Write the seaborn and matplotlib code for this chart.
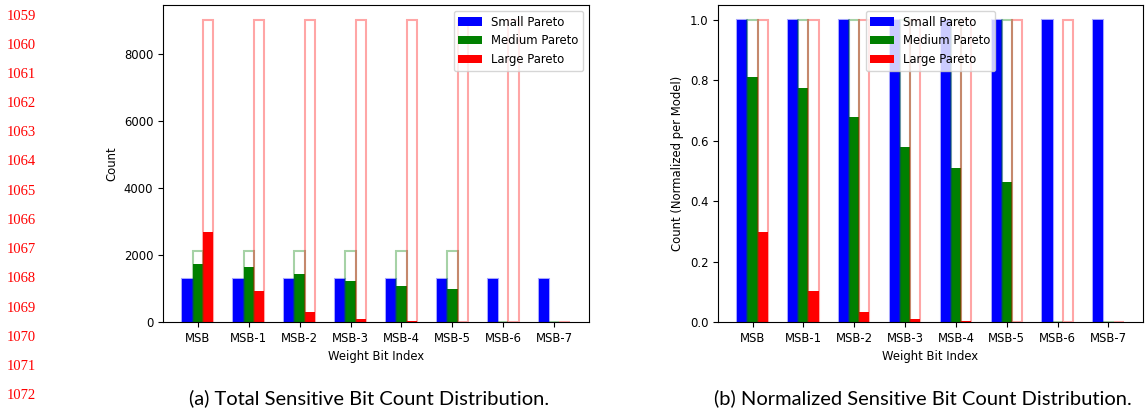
import numpy as np
import pandas as pd
import matplotlib
matplotlib.use("Agg")
import matplotlib.pyplot as plt
import seaborn as sns

bits = ["MSB", "MSB-1", "MSB-2", "MSB-3", "MSB-4", "MSB-5", "MSB-6", "MSB-7"]
models = ["Small Pareto", "Medium Pareto", "Large Pareto"]
colors = ["blue", "green", "red"]

small_sensitive = [1285, 1285, 1285, 1285, 1285, 1285, 1285, 1285]
medium_sensitive = [1722, 1645, 1443, 1232, 1084, 988, 0, 0]
large_sensitive = [2690, 925, 305, 90, 25, 3, 0, 0]

small_total = [1285, 1285, 1285, 1285, 1285, 1285, 1285, 1285]
medium_total = [2125, 2125, 2125, 2125, 2125, 2125, 0, 0]
large_total = [9000, 9000, 9000, 9000, 9000, 9000, 9000, 0]

sens = {"Small Pareto": small_sensitive, "Medium Pareto": medium_sensitive, "Large Pareto": large_sensitive}
tot = {"Small Pareto": small_total, "Medium Pareto": medium_total, "Large Pareto": large_total}

rows = []
for m in models:
    for i, b in enumerate(bits):
        s = sens[m][i]
        t = tot[m][i]
        rows.append({"bit": b, "model": m, "count": s, "total": t,
                     "norm": s / t if t > 0 else 0.0,
                     "norm_total": 1.0 if t > 0 else 0.0})
df = pd.DataFrame(rows)

plt.rcParams["font.family"] = ["DejaVu Sans"]
plt.rcParams["font.size"] = 8.4

W, H = 1148, 408
fig = plt.figure(figsize=(W / 100, H / 100), dpi=100)
ax1 = fig.add_axes([163 / W, 86 / H, 426 / W, 317 / H])
ax2 = fig.add_axes([718 / W, 86 / H, 425 / W, 317 / H])

palette = dict(zip(models, colors))


def draw(ax, val, totcol, ylabel, loc):
    sns.barplot(data=df, x="bit", y=val, hue="model", hue_order=models, order=bits,
                palette=palette, width=0.6, gap=0, saturation=1, errorbar=None,
                linewidth=0, ax=ax, legend=True)
    n_before = len(ax.patches)
    sns.barplot(data=df, x="bit", y=totcol, hue="model", hue_order=models, order=bits,
                palette=palette, width=0.6, gap=0, saturation=1, errorbar=None,
                fill=False, linewidth=1.5, ax=ax, legend=False)
    for p in ax.patches[n_before:]:
        ec = p.get_edgecolor()
        p.set_edgecolor((ec[0], ec[1], ec[2], 0.35))
        p.set_facecolor("none")
    ax.set_xlim(-0.68, 7.68)
    ax.set_xlabel("Weight Bit Index")
    ax.set_ylabel(ylabel)
    sns.move_legend(ax, loc, title=None, fontsize=8.4)


draw(ax1, "count", "total", "Count", "upper right")
ax1.set_ylim(0, 9450)
draw(ax2, "norm", "norm_total", "Count (Normalized per Model)", "upper center")
ax2.set_ylim(0, 1.05)

for k in range(14):
    y = 16 + k * 29.2
    fig.text(7 / W, 1 - y / H, str(1059 + k), color="red", fontsize=10.5,
             family="Liberation Serif", ha="left", va="center")

fig.text(369 / W, 1 - 398 / H, "(a) Total Sensitive Bit Count Distribution.",
         fontsize=14.5, family="Lato", ha="center", va="center")
fig.text(923 / W, 1 - 398 / H, "(b) Normalized Sensitive Bit Count Distribution.",
         fontsize=14.5, family="Lato", ha="center", va="center")

fig.savefig("out.png", dpi=100)
